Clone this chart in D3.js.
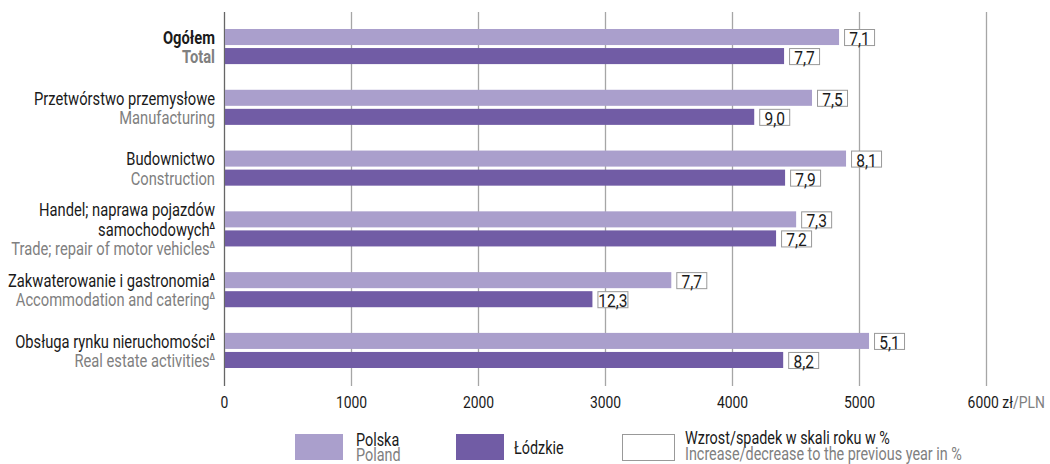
<!DOCTYPE html>
<html>
<head>
<meta charset="utf-8">
<script src="https://cdn.jsdelivr.net/npm/d3@7"></script>
<style>
	body { margin: 0; background: #fff; }
	svg text { font-family: "Roboto", "Noto Sans", sans-serif; font-size: 18px; }
	.tick text { font-size: 17px; }
	.box text { font-size: 19px; }
	.legend text { font-size: 17.6px; }
</style>
</head>
<body>
<div id="chart"></div>
<script>
var width = 1050;
var height = 464;

// category labels (Polish lines + English line)
var labelsPl = [["Ogółem"], ["Przetwórstwo przemysłowe"], ["Budownictwo"],
	["Handel; naprawa pojazdów", "samochodowych"], ["Zakwaterowanie i gastronomia"], ["Obsługa rynku nieruchomości"]];
var labelsEn = ["Total", "Manufacturing", "Construction",
	"Trade; repair of motor vehicles", "Accommodation and catering", "Real estate activities"];
var marked = [false, false, false, true, true, true];

var series = ["Polska", "Łódzkie"];
var polska = [4843, 4630, 4898, 4505, 3522, 5079];
var lodzkie = [4410, 4175, 4418, 4347, 2901, 4403];
var polskaChange = ["7,1", "7,5", "8,1", "7,3", "7,7", "5,1"];
var lodzkieChange = ["7,7", "9,0", "7,9", "7,2", "12,3", "8,2"];
var ticks = [0, 1000, 2000, 3000, 4000, 5000, 6000];

var lightColor = "#aa9fcc";
var darkColor = "#715ca5";
var grayText = "#808080";
var blackText = "#1a1a1a";

var sx = 0.8; // horizontal squeeze, the original uses a condensed face

window.onload = draw;

// text placed in a squeezed group
function addText(parent, x, y, str, anchor) {
	return parent.append("g")
		.attr("transform", "translate(" + x + "," + y + ") scale(" + sx + ",1)")
		.append("text")
		.attr("text-anchor", anchor || "start")
		.attr("dominant-baseline", "central")
		.attr("fill", blackText)
		.text(str);
}

function draw() {
	var svg = d3.select("#chart").append("svg")
		.attr("width", width)
		.attr("height", height);

	// work out the squeeze from the widest label (181px in the original)
	var probe = svg.append("text").text("Przetwórstwo przemysłowe");
	sx = 181 / probe.node().getComputedTextLength();
	probe.remove();

	var xScale = d3.scaleLinear().domain([0, 6000]).range([224, 986]);
	var yScale = d3.scaleBand().domain(d3.range(labelsPl.length)).range([29, 368]).paddingInner(0.4224).paddingOuter(0);
	var ySub = d3.scaleBand().domain(series).range([0, yScale.bandwidth()]).paddingInner(0.158);

	// grid + axis
	var xAxis = d3.axisBottom(xScale).tickValues(ticks).tickFormat(d3.format("d"))
		.tickSize(-(386 - 12)).tickPadding(10);
	var axisG = svg.append("g")
		.attr("transform", "translate(0,386)")
		.call(xAxis);
	axisG.attr("font-family", null).attr("font-size", null);
	axisG.select(".domain").remove();
	axisG.selectAll(".tick line").attr("stroke", d => d === 0 ? "#666" : "#a6a6a6").attr("stroke-width", 1.3);
	axisG.selectAll(".tick text")
		.attr("fill", blackText)
		.attr("transform", "scale(" + sx + ",1)");

	// unit after 6000
	var lastTick = axisG.selectAll(".tick text").filter(d => d === 6000);
	var w = lastTick.node().getComputedTextLength();
	lastTick.attr("text-anchor", "start").attr("x", -w / 2 - 4).text("6000");
	lastTick.append("tspan").text(" zł");
	lastTick.append("tspan").attr("fill", grayText).text("/PLN");

	// bars
	var rows = labelsPl.map((d, i) => ({ i: i, values: [
		{ key: "Polska", value: polska[i], change: polskaChange[i] },
		{ key: "Łódzkie", value: lodzkie[i], change: lodzkieChange[i] }
	]}));

	var groups = svg.selectAll(".group")
		.data(rows)
		.enter()
		.append("g")
		.attr("class", "group")
		.attr("transform", d => "translate(0," + yScale(d.i) + ")");

	groups.selectAll("rect.bar")
		.data(d => d.values)
		.enter()
		.append("rect")
		.attr("class", "bar")
		.attr("x", xScale(0) + 1)
		.attr("y", d => ySub(d.key))
		.attr("width", d => xScale(d.value) - xScale(0) - 1)
		.attr("height", ySub.bandwidth())
		.attr("fill", d => d.key === "Polska" ? lightColor : darkColor);

	// change boxes
	groups.each(function(row) {
		var g = d3.select(this);
		row.values.forEach(function(v) {
			var bx = xScale(v.value) + 5;
			var by = ySub(v.key);
			var box = g.append("g").attr("class", "box");
			box.append("rect")
				.attr("x", bx + 0.5)
				.attr("y", by + 0.5)
				.attr("width", 30)
				.attr("height", ySub.bandwidth())
				.attr("fill", "#fff")
				.attr("stroke", "#999")
				.attr("stroke-width", 1);
			addText(box, bx + 15.5, by + ySub.bandwidth() / 2 + 1.5, v.change, "middle");
		});
	});

	// category labels
	var lineH = 19.5;
	labelsPl.forEach(function(lines, i) {
		var all = lines.map(t => ({ text: t, en: false })).concat([{ text: labelsEn[i], en: true }]);
		var center = yScale(i) + yScale.bandwidth() / 2 + 1;
		var top = center - (all.length - 1) * lineH / 2;
		all.forEach(function(line, j) {
			var t = addText(svg, 215, top + j * lineH, line.text, "end")
				.attr("fill", line.en ? grayText : blackText)
				.style("font-weight", i === 0 ? "bold" : "normal");
			var lastPl = !line.en && j === lines.length - 1;
			if (marked[i] && (line.en || lastPl)) {
				t.append("tspan")
					.attr("dy", "-0.5em")
					.style("font-size", "9px")
					.style("font-weight", "bold")
					.text("Δ");
			}
		});
	});

	// legend
	var legend = svg.append("g").attr("class", "legend");
	legend.append("rect").attr("x", 295).attr("y", 434).attr("width", 48).attr("height", 26).attr("fill", lightColor);
	addText(legend, 356, 439.5, "Polska");
	addText(legend, 356, 455, "Poland").attr("fill", grayText);

	legend.append("rect").attr("x", 456).attr("y", 434).attr("width", 48).attr("height", 26).attr("fill", darkColor);
	addText(legend, 514, 448, "Łódzkie");

	legend.append("rect").attr("x", 622.5).attr("y", 434.5).attr("width", 52).attr("height", 26)
		.attr("fill", "#fff").attr("stroke", "#999");
	addText(legend, 685, 438, "Wzrost/spadek w skali roku w %");
	addText(legend, 685, 454, "Increase/decrease to the previous year in %").attr("fill", grayText);
}
</script>
</body>
</html>
